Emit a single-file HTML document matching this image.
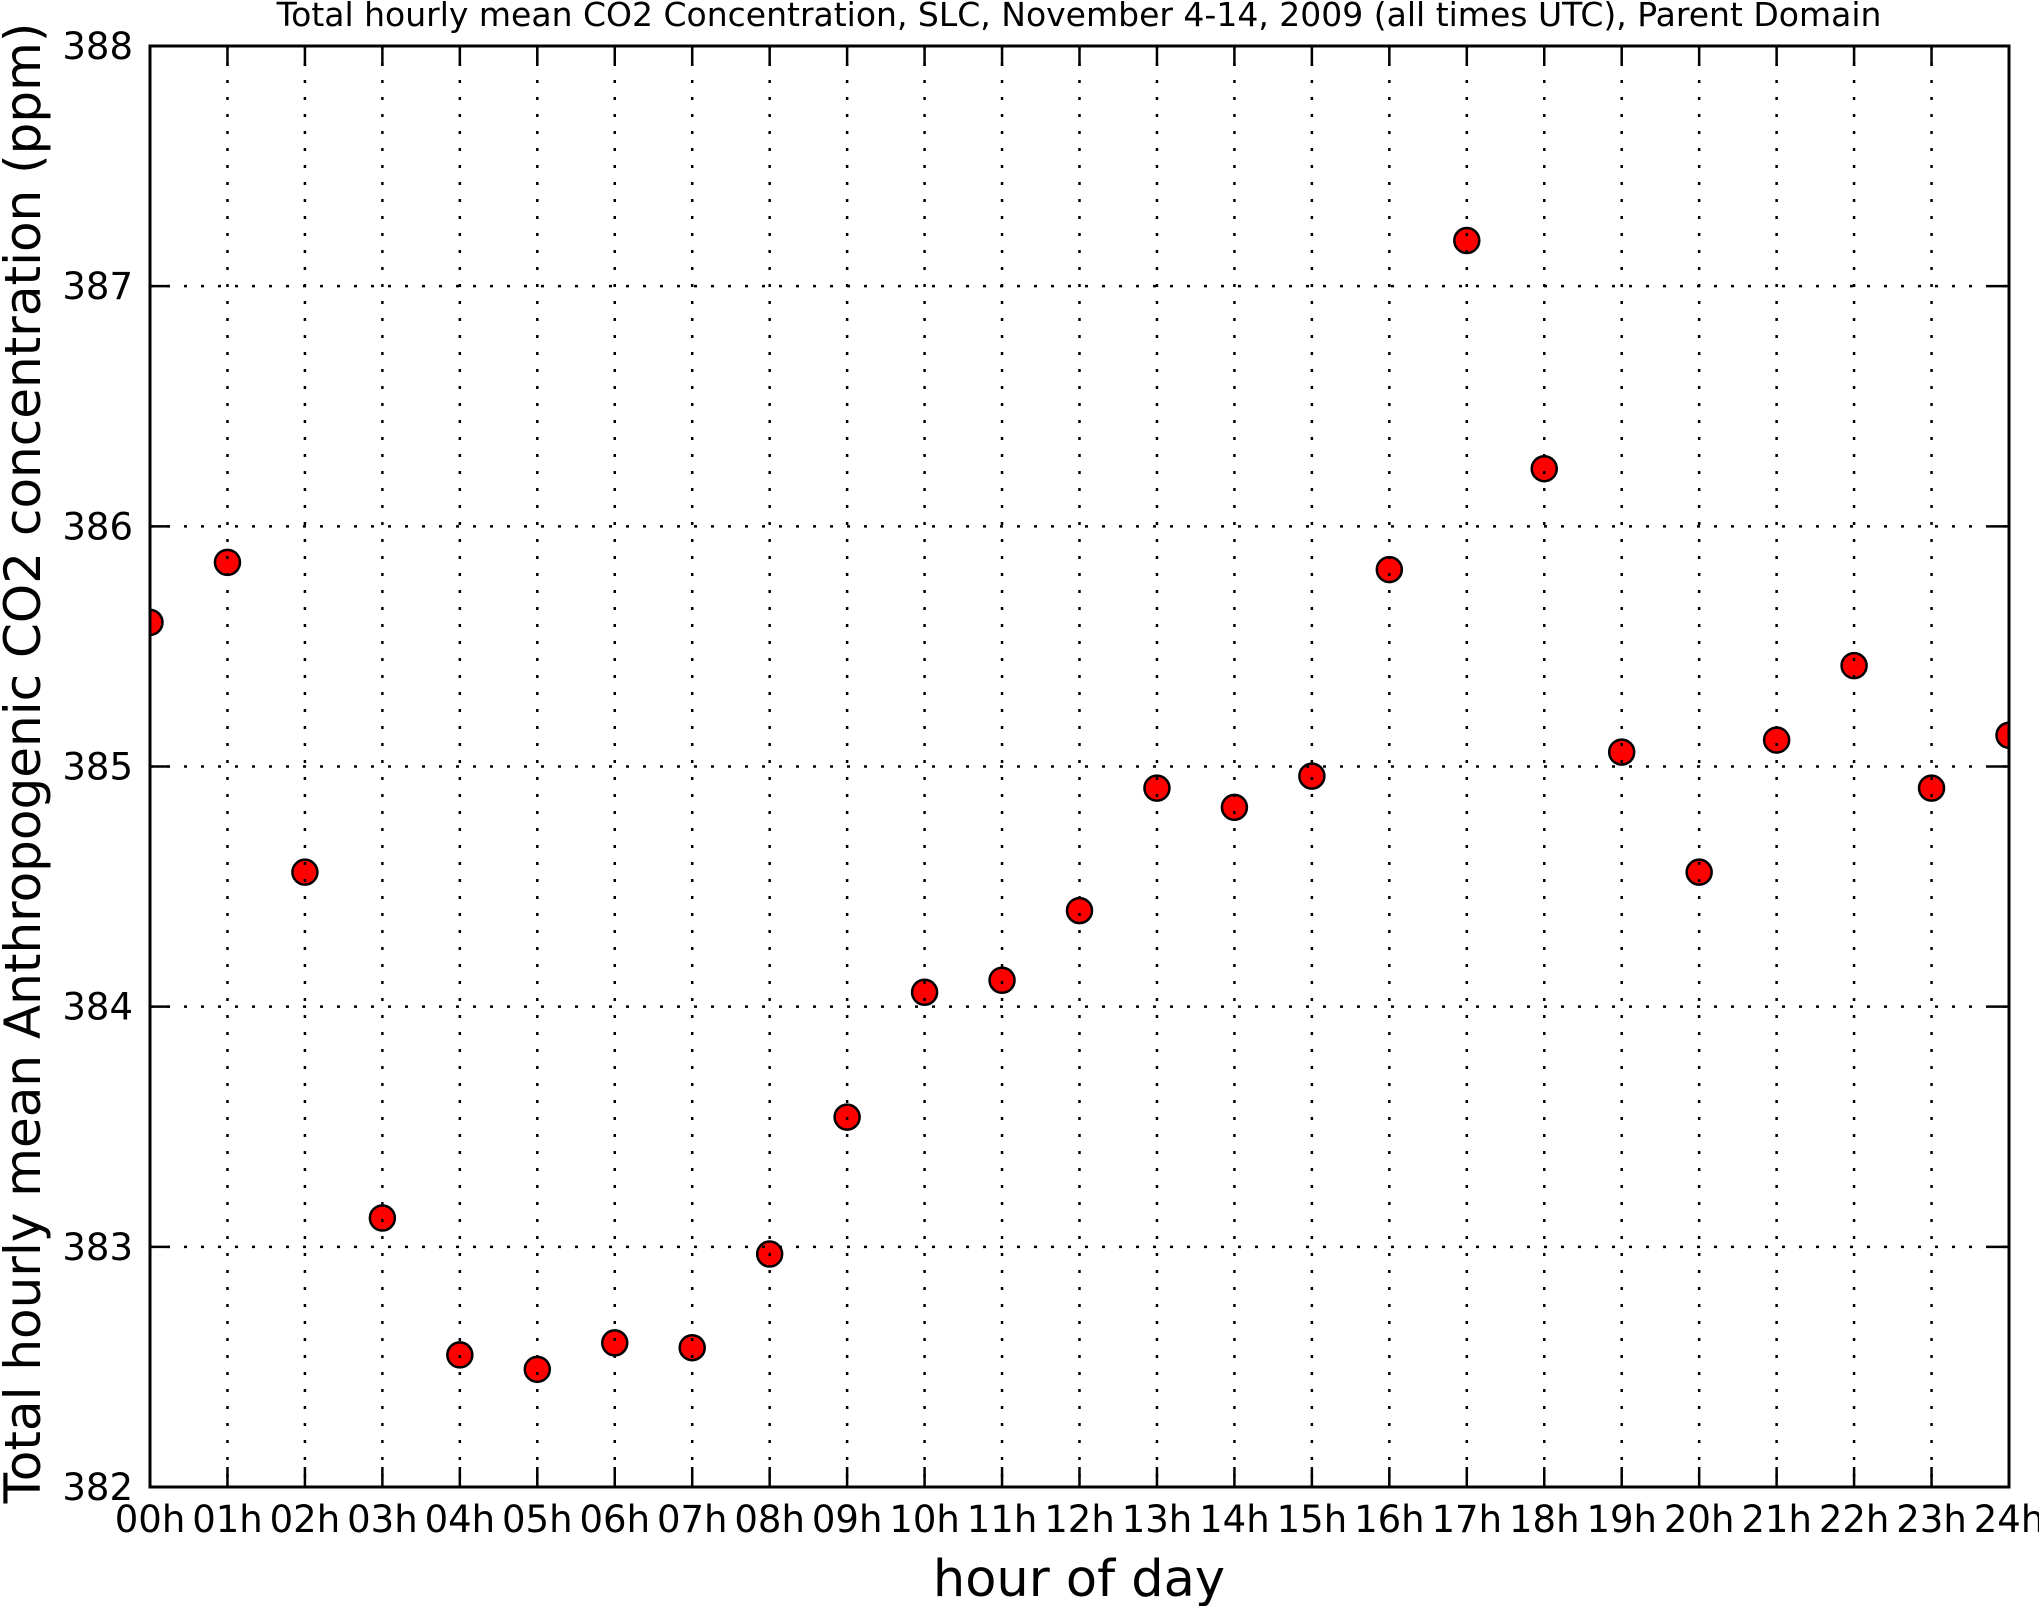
<!DOCTYPE html>
<html><head><meta charset="utf-8"><style>
html,body{margin:0;padding:0;background:#fff;}
svg{display:block;font-family:"DejaVu Sans","Liberation Sans",sans-serif;}
</style></head><body>
<svg id="chart" width="2039" height="1606" viewBox="0 0 2039 1606" xmlns="http://www.w3.org/2000/svg">
<defs><clipPath id="plotclip"><rect x="150" y="46" width="1859" height="1441"/></clipPath></defs>
<rect width="2039" height="1606" fill="#fff"/>
<text x="1079" y="26" font-size="33" text-anchor="middle">Total hourly mean CO2 Concentration, SLC, November 4-14, 2009 (all times UTC), Parent Domain</text>
<g id="points" clip-path="url(#plotclip)"></g>
<g id="grid"></g>
<g id="ticks"></g>
<rect x="150" y="46" width="1859" height="1441" fill="none" stroke="#000" stroke-width="3"/>
<text x="1079" y="1596" font-size="51" text-anchor="middle">hour of day</text>
<text transform="translate(40,763) rotate(-90)" font-size="50" text-anchor="middle">Total hourly mean Anthropogenic CO2 concentration (ppm)</text>
</svg>
<script>
const hours = [0,1,2,3,4,5,6,7,8,9,10,11,12,13,14,15,16,17,18,19,20,21,22,23,24];
const xTickLabels = ["00h","01h","02h","03h","04h","05h","06h","07h","08h","09h","10h","11h","12h","13h","14h","15h","16h","17h","18h","19h","20h","21h","22h","23h","24h"];
const co2Values = [385.60,385.85,384.56,383.12,382.55,382.49,382.60,382.58,382.97,383.54,384.06,384.11,384.40,384.91,384.83,384.96,385.82,387.19,386.24,385.06,384.56,385.11,385.42,384.91,385.13];
const yTicks = [382,383,384,385,386,387,388];

const NS="http://www.w3.org/2000/svg";
const L=150,R=2009,T=46,B=1487;
function xs(h){return L+(h-0)/(24-0)*(R-L);}
function ys(v){return B-(v-382)/(388-382)*(B-T);}
function mk(tag,attrs,parent){const e=document.createElementNS(NS,tag);for(const k in attrs)e.setAttribute(k,attrs[k]);parent.appendChild(e);return e;}
const grid=document.getElementById('grid'),ticks=document.getElementById('ticks'),pts=document.getElementById('points');
hours.forEach((h,i)=>{
  const x=xs(h);
  if(i>0&&i<hours.length-1){
    const g=mk('line',{x1:x,x2:x,y1:T,y2:B,stroke:'#000','stroke-width':2.5,'stroke-dasharray':'3,14'},grid);
    
    
  }
  const t1=mk('line',{x1:x,x2:x,y1:B,y2:B-20,stroke:'#000','stroke-width':2.5},ticks);
  
  
  const t2=mk('line',{x1:x,x2:x,y1:T,y2:T+20,stroke:'#000','stroke-width':2.5},ticks);
  
  
  const lb=mk('text',{x:x,y:1532,'font-size':37,'text-anchor':'middle'},ticks);
  lb.textContent=xTickLabels[i];
  
  
});
yTicks.forEach((v,i)=>{
  const y=ys(v);
  if(i>0&&i<yTicks.length-1){
    const g=mk('line',{x1:L,x2:R,y1:y,y2:y,stroke:'#000','stroke-width':2.5,'stroke-dasharray':'3,14'},grid);
    
    
  }
  const t1=mk('line',{x1:L,x2:L+20,y1:y,y2:y,stroke:'#000','stroke-width':2.5},ticks);
  
  
  const t2=mk('line',{x1:R,x2:R-20,y1:y,y2:y,stroke:'#000','stroke-width':2.5},ticks);
  
  
  const lb=mk('text',{x:133,y:y+13,'font-size':37,'text-anchor':'end'},ticks);
  lb.textContent=v;
  
  
});
hours.forEach((h,i)=>{
  const c=mk('circle',{cx:xs(h),cy:ys(co2Values[i]),r:12.5,fill:'#ff0000',stroke:'#000','stroke-width':2.5},pts);
  
  
});
</script>
</body></html>
